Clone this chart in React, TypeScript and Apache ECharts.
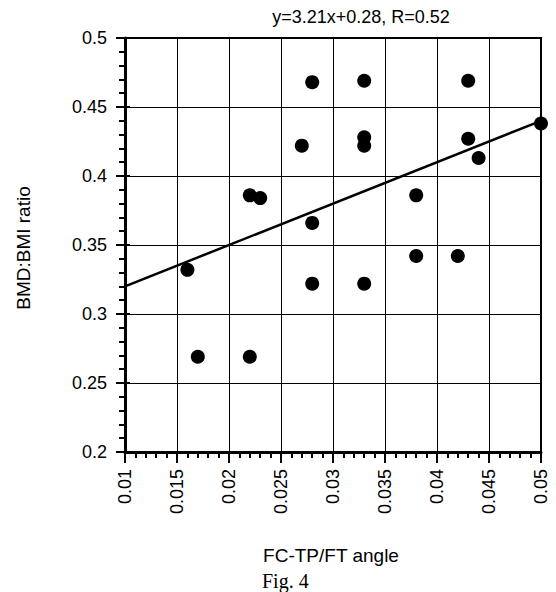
import React, { useEffect, useRef } from "react";
import * as echarts from "echarts";

const angleValues = [0.028, 0.033, 0.043, 0.05, 0.027, 0.033, 0.033, 0.043, 0.044, 0.022, 0.023, 0.038, 0.028, 0.016, 0.028, 0.033, 0.038, 0.042, 0.017, 0.022];
const ratioValues = [0.468, 0.469, 0.469, 0.438, 0.422, 0.428, 0.422, 0.427, 0.413, 0.386, 0.384, 0.386, 0.366, 0.332, 0.322, 0.322, 0.342, 0.342, 0.269, 0.269];
const trendX = [0.01, 0.05];
const trendY = [0.32, 0.44];
const titleText = "y=3.21x+0.28, R=0.52";
const xName = "FC-TP/FT angle";
const yName = "BMD:BMI ratio";
const figText = "Fig. 4";

const SANS = "'Liberation Sans', Arial, Helvetica, sans-serif";

export default function App() {
  const ref = useRef<HTMLDivElement>(null);
  useEffect(() => {
    if (!ref.current) return;
    const chart = echarts.init(ref.current, undefined, { renderer: "svg" });
    const fmt = (v: number) => String(parseFloat(v.toFixed(3)));
    const points = angleValues.map((x, i) => [x, ratioValues[i]]);
    const trend = trendX.map((x, i) => [x, trendY[i]]);
    chart.setOption({
      animation: false,
      backgroundColor: "#fff",
      grid: { left: 125, right: 15, top: 38, bottom: 140, show: true, borderColor: "#000", borderWidth: 2, backgroundColor: "transparent" },
      xAxis: [
        {
          type: "value", min: 0.01, max: 0.05, interval: 0.005,
          axisLine: { show: true, onZero: false, lineStyle: { color: "#000", width: 3 } },
          axisTick: { show: true, length: 11, lineStyle: { color: "#000", width: 2 } },
          minorTick: { show: true, splitNumber: 5, length: 6, lineStyle: { color: "#000", width: 2 } },
          splitLine: { show: true, lineStyle: { color: "#000", width: 1 } },
          axisLabel: { rotate: 90, margin: 17, color: "#000", fontSize: 18, fontFamily: SANS, formatter: fmt },
        },
      ],
      yAxis: [
        {
          type: "value", min: 0.2, max: 0.5, interval: 0.05,
          axisLine: { show: true, onZero: false, lineStyle: { color: "#000", width: 3 } },
          axisTick: { show: true, length: 9, lineStyle: { color: "#000", width: 2 } },
          minorTick: { show: true, splitNumber: 5, length: 6, lineStyle: { color: "#000", width: 2 } },
          splitLine: { show: true, lineStyle: { color: "#000", width: 1 } },
          axisLabel: { margin: 18, color: "#000", fontSize: 18, fontFamily: SANS, formatter: fmt },
        },
        {
          type: "value", min: 0.2, max: 0.5, interval: 0.05, position: "left",
          axisLine: { show: false },
          axisTick: { show: true, inside: true, length: 5, lineStyle: { color: "#000", width: 2 } },
          splitLine: { show: false },
          axisLabel: { show: false },
        },
      ],
      series: [
        {
          type: "line", data: trend, showSymbol: false, symbol: "none",
          lineStyle: { color: "#000", width: 2.5 }, z: 3,
        },
        {
          type: "scatter", data: points, symbolSize: 14, clip: false,
          itemStyle: { color: "#000", opacity: 1 }, z: 4,
        },
      ],
      graphic: [
        { type: "text", x: 361, y: 17, style: { text: titleText, fill: "#000", font: `18px ${SANS}`, textAlign: "center", textVerticalAlign: "middle" } },
        { type: "text", x: 331, y: 555, style: { text: xName, fill: "#000", font: `19px ${SANS}`, textAlign: "center", textVerticalAlign: "middle" } },
        { type: "text", x: 23, y: 248, rotation: Math.PI / 2, style: { text: yName, fill: "#000", font: `19px ${SANS}`, textAlign: "center", textVerticalAlign: "middle" } },
        { type: "text", x: 262, y: 581, style: { text: figText, fill: "#000", font: `20px 'Liberation Serif', 'Times New Roman', serif`, textAlign: "left", textVerticalAlign: "middle" } },
      ],
    });
    return () => chart.dispose();
  }, []);
  return <div ref={ref} style={{ position: "fixed", left: 0, top: 0, width: 556, height: 592 }} />;
}
